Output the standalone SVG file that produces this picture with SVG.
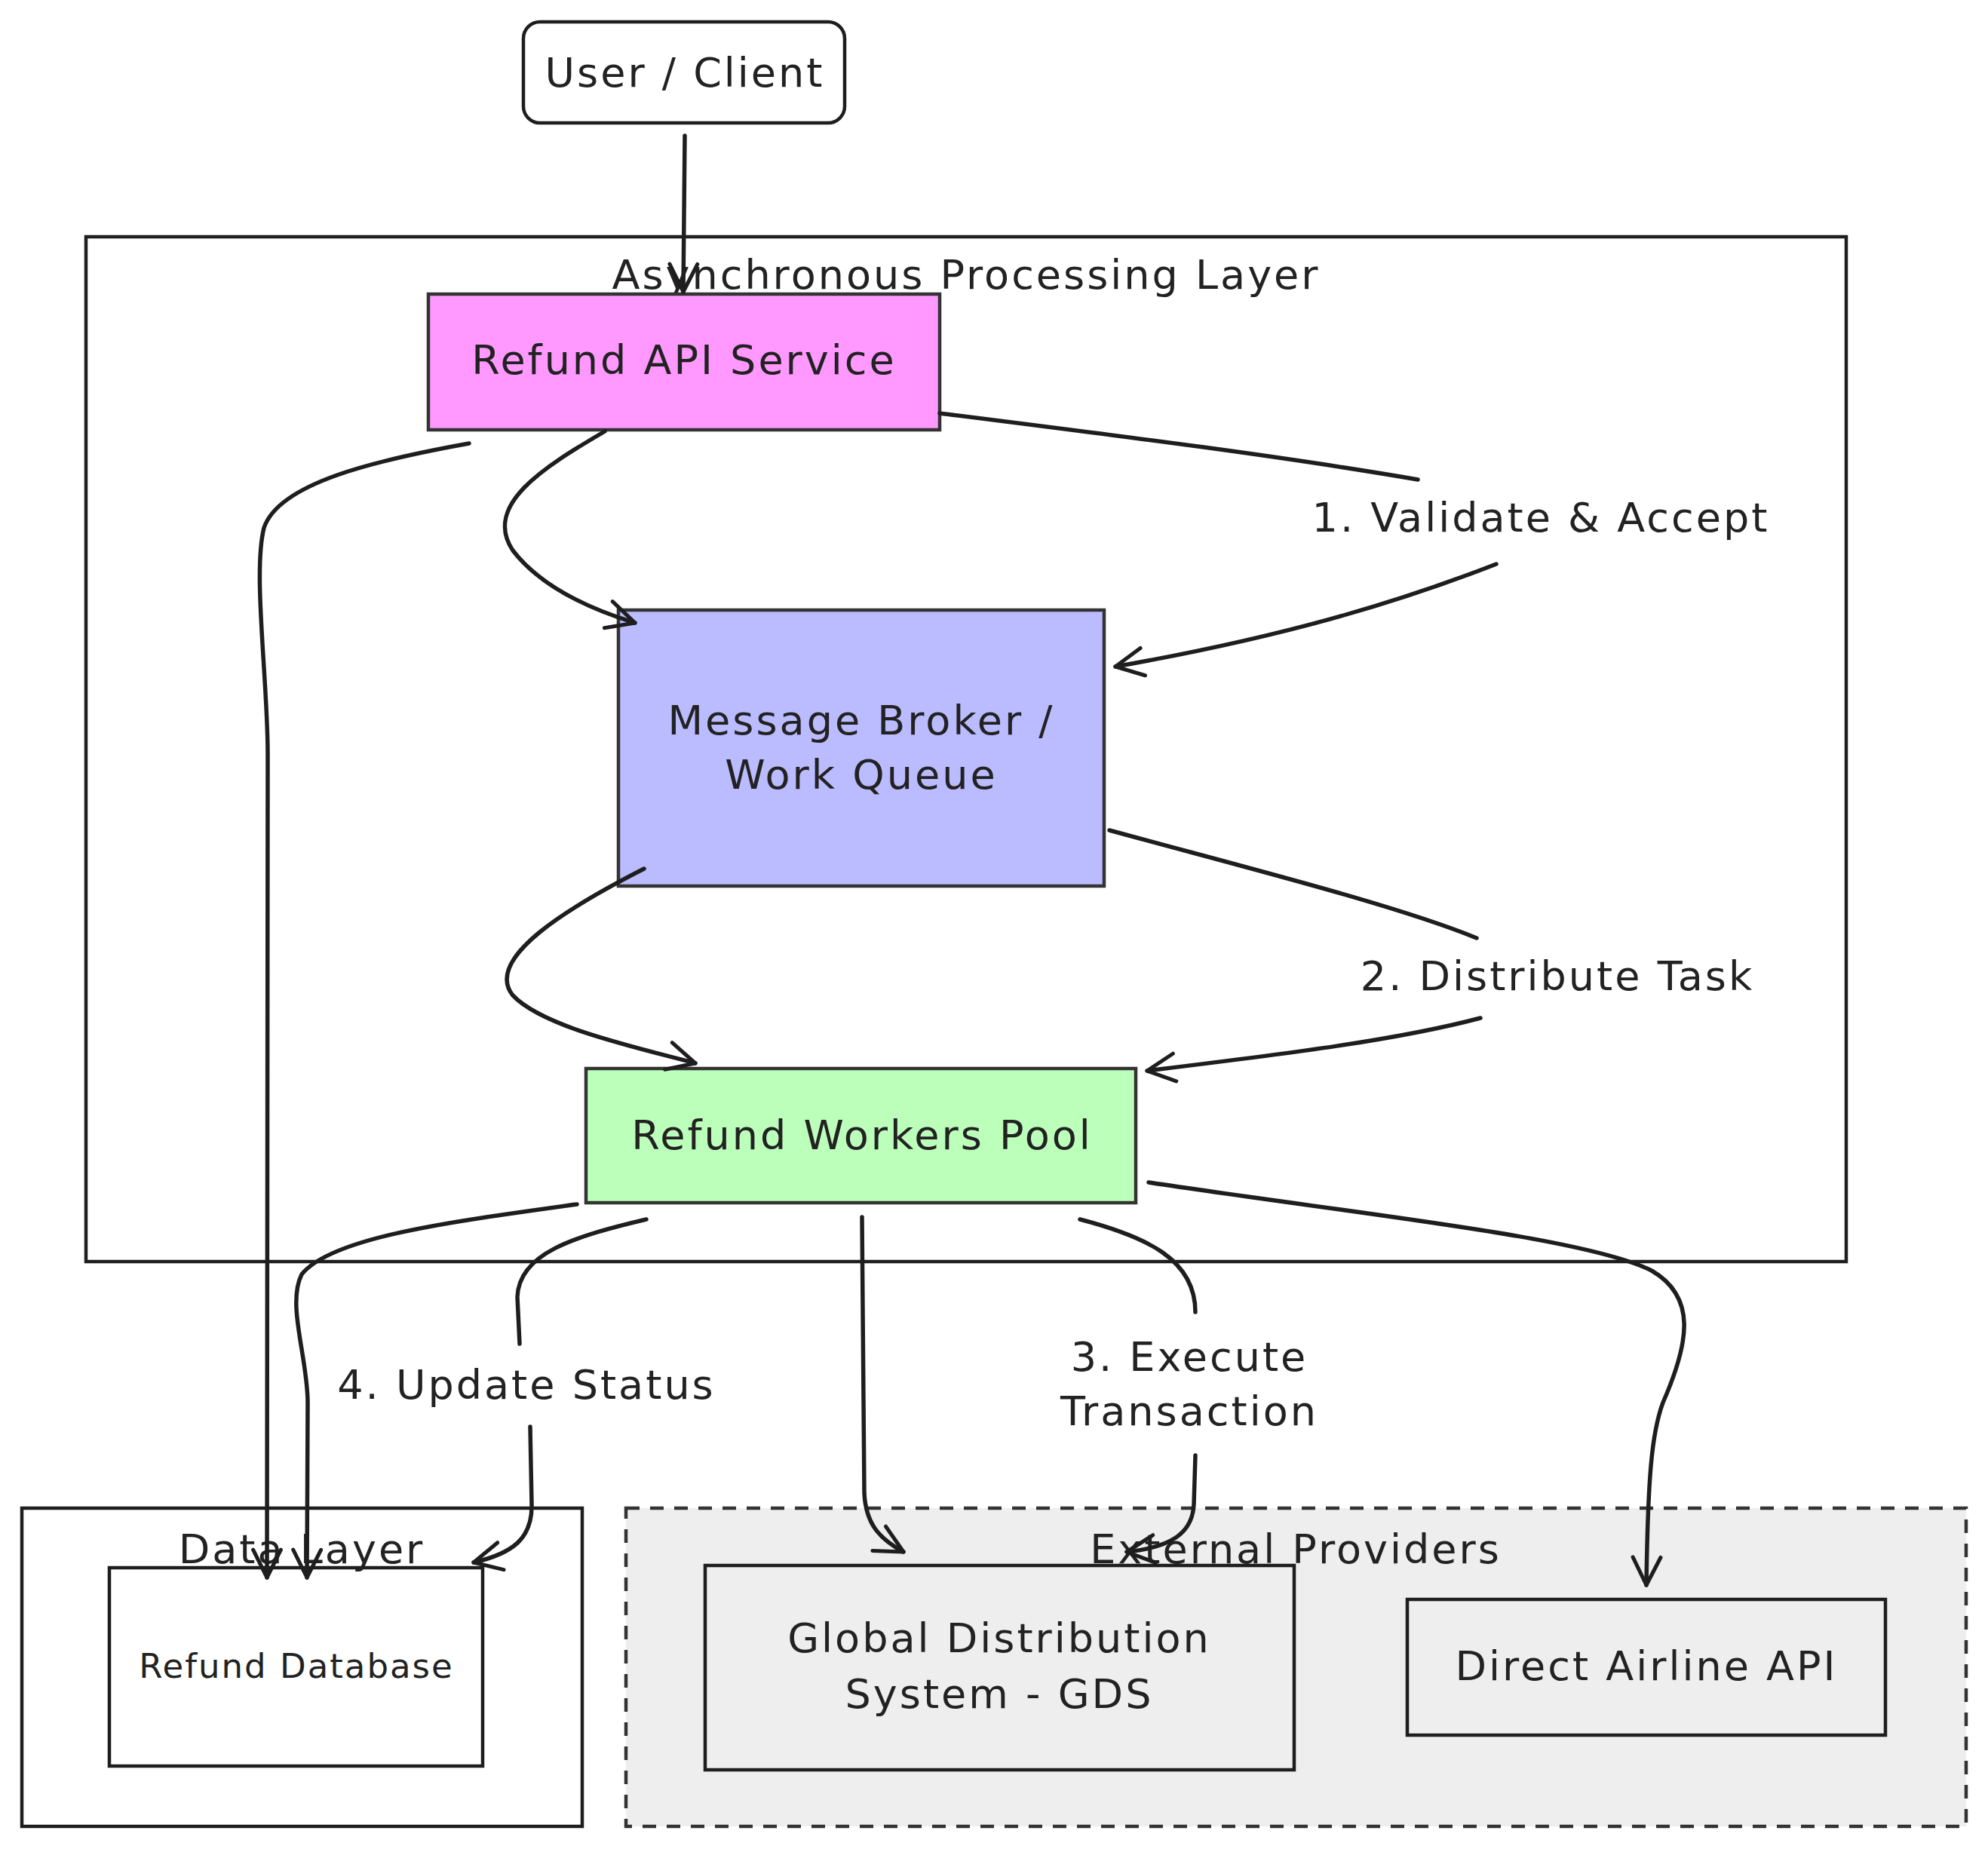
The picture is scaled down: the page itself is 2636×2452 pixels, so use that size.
<svg xmlns="http://www.w3.org/2000/svg" width="2636" height="2452" viewBox="0 0 2636 2452">
<style>
text{font-family:"DejaVu Sans","Liberation Sans",sans-serif;fill:#222;text-anchor:middle;dominant-baseline:central}
.t{font-size:54px;letter-spacing:3px}
.ts{font-size:45px;letter-spacing:2px}
.lbl{font-size:54px;letter-spacing:3px}
.cont{fill:none;stroke:#1e1e1e;stroke-width:4.5}
.node{stroke:#333;stroke-width:4.5}
.edge{fill:none;stroke:#1e1e1e;stroke-width:5.5;stroke-linecap:round;stroke-linejoin:round}
.arr{marker-end:url(#ah)}
</style>
<defs>
<marker id="ah" markerUnits="userSpaceOnUse" viewBox="0 0 20 20" refX="18" refY="10" markerWidth="46" markerHeight="46" orient="auto">
<path d="M2,2 L18,10 L2,18" fill="none" stroke="#1e1e1e" stroke-width="2.2" stroke-linecap="round" stroke-linejoin="round"/>
</marker>
</defs>
<rect x="0" y="0" width="2636" height="2452" fill="#fff"/>

<g id="cluster-async">
<rect class="cont" x="114" y="314" width="2334" height="1359"/>
<text class="t" x="1281" y="364">Asynchronous Processing Layer</text>
</g>
<g id="cluster-data">
<rect class="cont" x="29" y="2000" width="743" height="422"/>
<text class="t" x="400" y="2054">Data Layer</text>
</g>
<g id="cluster-external">
<rect x="830" y="2000" width="1777" height="422" fill="#eee" stroke="#333" stroke-width="4.5" stroke-dasharray="18 14"/>
<text class="t" x="1718" y="2054">External Providers</text>
</g>

<g id="node-client">
<rect x="694" y="29" width="426" height="134" rx="22" fill="#fff" stroke="#1e1e1e" stroke-width="4.5"/>
<text class="t" x="908" y="96">User / Client</text>
</g>
<g id="node-api">
<rect class="node" x="568" y="390" width="678" height="180" fill="#f9f"/>
<text class="t" x="907" y="477">Refund API Service</text>
</g>
<g id="node-broker">
<rect class="node" x="820" y="809" width="644" height="366" fill="#bbf"/>
<text class="t" x="1142" y="955">Message Broker /</text>
<text class="t" x="1142" y="1027">Work Queue</text>
</g>
<g id="node-workers">
<rect class="node" x="777" y="1417" width="729" height="178" fill="#bfb"/>
<text class="t" x="1143" y="1505">Refund Workers Pool</text>
</g>
<g id="node-db">
<rect class="cont" x="145" y="2079" width="495" height="263" fill="#fff"/>
<text class="ts" x="393" y="2209">Refund Database</text>
</g>
<g id="node-gds">
<rect class="cont" x="935" y="2076" width="781" height="271"/>
<text class="t" x="1325" y="2172">Global Distribution</text>
<text class="t" x="1325" y="2246">System - GDS</text>
</g>
<g id="node-airline">
<rect class="cont" x="1866" y="2121" width="634" height="180"/>
<text class="t" x="2183" y="2209">Direct Airline API</text>
</g>

<g id="connectors">
<path class="edge arr" d="M908,180 L906,387"/>
<path class="edge arr" d="M802,572 C720,620 640,670 680,730 C720,782 790,810 842,826"/>
<path class="edge" d="M1246,548 C1500,580 1700,605 1880,636"/>
<path class="edge arr" d="M1984,748 C1850,800 1700,845 1479,884"/>
<path class="edge arr" d="M854,1152 C760,1200 640,1270 680,1320 C720,1362 840,1388 922,1410"/>
<path class="edge" d="M1471,1101 C1650,1150 1850,1200 1958,1244"/>
<path class="edge arr" d="M1963,1350 C1850,1380 1700,1398 1521,1420"/>
<path class="edge arr" d="M622,588 C500,610 370,640 350,700 C335,760 355,900 355,1000 L354,2092"/>
<path class="edge arr" d="M765,1597 C600,1620 440,1640 400,1690 C380,1730 408,1800 408,1860 L407,2092"/>
<path class="edge" d="M857,1617 C760,1640 688,1662 686,1720 L689,1782"/>
<path class="edge arr" d="M703,1892 L705,1995 C706,2040 680,2060 628,2072"/>
<path class="edge arr" d="M1143,1614 L1146,1980 C1148,2020 1165,2040 1198,2058"/>
<path class="edge" d="M1432,1617 C1520,1640 1585,1670 1585,1740"/>
<path class="edge arr" d="M1585,1930 L1583,1995 C1581,2035 1550,2052 1494,2058"/>
<path class="edge arr" d="M1523,1568 C1800,1610 2100,1640 2190,1685 C2250,1720 2240,1780 2205,1860 C2190,1900 2185,1960 2183,2102"/>
</g>
<g id="edge-labels">
<text class="lbl" x="2043" y="686">1. Validate &amp; Accept</text>
<text class="lbl" x="2065" y="1294">2. Distribute Task</text>
<text class="lbl" x="1577" y="1799">3. Execute</text>
<text class="lbl" x="1577" y="1871">Transaction</text>
<text class="lbl" x="698" y="1836">4. Update Status</text>
</g>
</svg>
